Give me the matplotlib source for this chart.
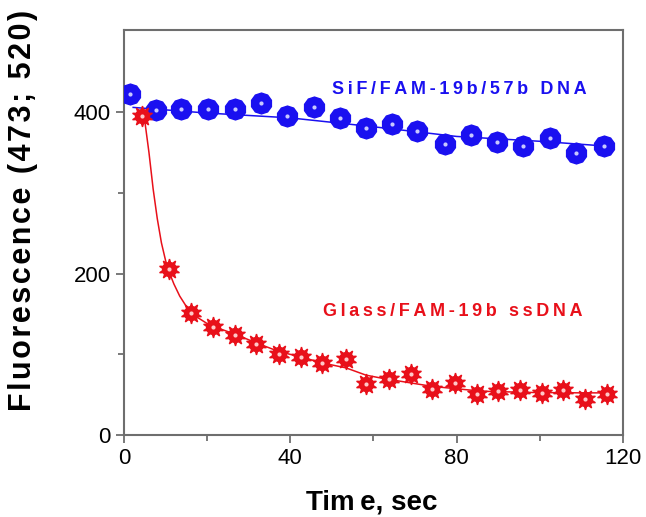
import matplotlib.pyplot as plt

# SiF / FAM-19b/57b DNA (blue)
sif_t = [1.4, 7.8, 13.8, 20.2, 26.6, 32.9, 39.3, 45.6, 52.0, 58.2,
         64.5, 70.6, 77.2, 83.6, 89.8, 96.1, 102.5, 108.8, 115.4]
sif_f = [422, 403, 404, 404, 404, 412, 395, 406, 393, 381,
         386, 377, 360, 372, 363, 358, 368, 350, 358]
sif_fit_t = [2.2, 20, 40, 60, 80, 100, 116]
sif_fit_f = [406, 399, 393, 382, 370, 364, 358]

# Glass / FAM-19b ssDNA (red)
gl_t = [4.25, 10.8, 16.0, 21.4, 26.6, 31.8, 37.4, 42.5, 47.7, 53.3, 58.2,
        63.7, 69.0, 74.2, 79.7, 84.9, 90.0, 95.3, 100.5, 105.7, 110.9, 116.1]
gl_f = [395, 206, 151, 134, 124, 112, 100, 96, 89, 94, 63,
        69, 76, 57, 64, 51, 54, 56, 52, 55, 45, 51]
gl_fit_t = [4.25, 5.0, 6.0, 7.0, 8.0, 9.0, 10.0, 11.0, 12.0, 13.4, 16.0, 20.6,
            26.6, 31.8, 37.4, 42.2, 47.8, 53.4, 58.2, 62.2, 74.2, 86.2, 98.2,
            110.2, 117.4]
gl_fit_f = [395, 389, 350, 305, 268, 238, 216, 200, 187, 172, 151, 136,
            125, 114, 103, 97, 89, 83, 74, 70, 60, 54, 52.5, 52, 52]

blue = '#1a10f0'
red = '#e8101a'
gray = '#6e6e6e'

plt.rcParams['font.family'] = ['Liberation Sans', 'DejaVu Sans']


def spaced(s, sp='\u2009'):
    return sp.join(s)


fig = plt.figure(figsize=(6.46, 5.17), dpi=100)
ax = fig.add_axes([0.192, 0.159, 0.772, 0.783])

ax.plot(sif_fit_t, sif_fit_f, '-', color=blue, lw=1.1, zorder=2)
ax.plot(gl_fit_t, gl_fit_f, '-', color=red, lw=1.1, zorder=2)

# blue bumpy spheres
ax.plot(sif_t, sif_f, 'o', ls='none', color=blue, ms=13, mec=blue, zorder=3)
ax.plot(sif_t, sif_f, marker=(10, 0, 0), ls='none', color=blue, ms=15, mec=blue, zorder=3)
ax.plot(sif_t, sif_f, 'o', ls='none', color='#c8c8ff', ms=3, mew=0, zorder=4)

# red gear stars
ax.plot(gl_t, gl_f, marker=(10, 1, 0), ls='none', color=red, ms=15, mec=red, mew=1, zorder=3)
ax.plot(gl_t, gl_f, 'o', ls='none', color=red, ms=10, mec=red, zorder=3)
ax.plot(gl_t, gl_f, 'o', ls='none', color='#ffc8c8', ms=3, mew=0, zorder=4)

ax.set_xlim(0, 120)
ax.set_ylim(0, 502)
ax.set_xticks([0, 40, 80, 120])
ax.set_xticks([20, 60, 100], minor=True)
ax.set_yticks([0, 200, 400])
ax.set_yticks([100, 300], minor=True)

for s in ax.spines.values():
    s.set_color(gray)
    s.set_linewidth(1.5)
ax.tick_params(which='both', direction='out', color=gray, width=1.3,
               labelsize=16, top=False, right=False)
ax.tick_params(which='major', length=6)
ax.tick_params(which='minor', length=4)

ax.set_xlabel('Tim\u2009e, sec', fontsize=20, fontweight='bold')
ax.xaxis.set_label_coords(0.497, -0.135)
ax.set_ylabel(spaced('Fluorescence (473; 520)', '\u200a'), fontsize=22, fontweight='bold')
ax.yaxis.set_label_coords(-0.172, 0.553)

fig.text(459 / 646, 1 - 90 / 517, spaced('SiF/FAM-19b/57b DNA'), color=blue,
         fontsize=13, fontweight='bold', ha='center', va='center')
fig.text(453 / 646, 1 - 312 / 517, spaced('Glass/FAM-19b ssDNA'), color=red,
         fontsize=13, fontweight='bold', ha='center', va='center')

fig.savefig('out.png', dpi=100)
